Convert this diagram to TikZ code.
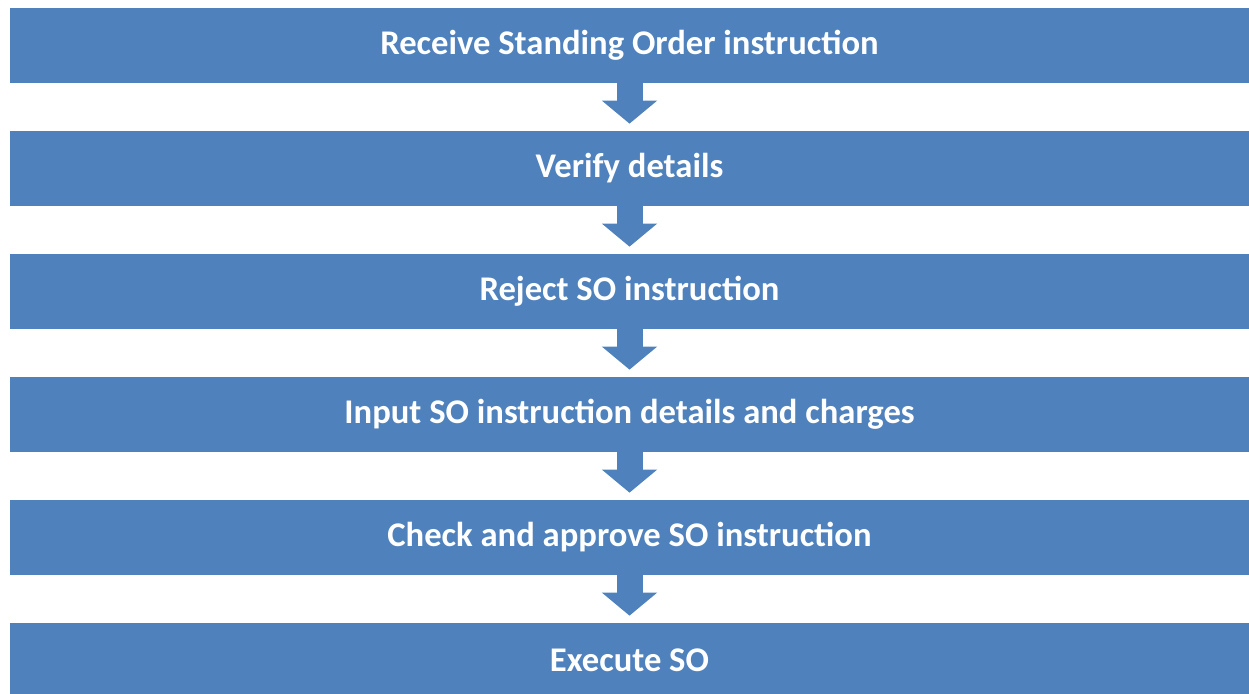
\documentclass[tikz,border=0pt]{standalone}
\usepackage{fontspec}
\setmainfont{Carlito}
\usepackage{xcolor}
\usepackage{tikz}
\usetikzlibrary{arrows.meta}
\definecolor{stageblue}{HTML}{4F81BD}
\tikzstyle{stage} = [rectangle, minimum width=24.78cm, minimum height=1.5cm, inner sep=0pt, text centered, fill=stageblue, text=white, font=\fontsize{19.7}{22}\selectfont\bfseries]
\tikzstyle{arrow} = [draw=stageblue, line width=0.52cm, -{Triangle[width=1.08cm, length=0.46cm]}, shorten >=0.14cm]

\begin{document}
\begin{tikzpicture}[node distance=2.46cm]
\useasboundingbox (0,0) rectangle (24.98,-13.86);

\node (recv) [stage] at (12.59,-0.91) {Receive Standing Order instruction};
\node (verify) [stage, below of=recv] {Verify details};
\node (reject) [stage, below of=verify] {Reject SO instruction};
\node (input) [stage, below of=reject] {Input SO instruction details and charges};
\node (check) [stage, below of=input] {Check and approve SO instruction};
\node (exec) [stage, below of=check] {Execute SO};

\draw [arrow] (recv) -- (verify);
\draw [arrow] (verify) -- (reject);
\draw [arrow] (reject) -- (input);
\draw [arrow] (input) -- (check);
\draw [arrow] (check) -- (exec);

\end{tikzpicture}
\end{document}
